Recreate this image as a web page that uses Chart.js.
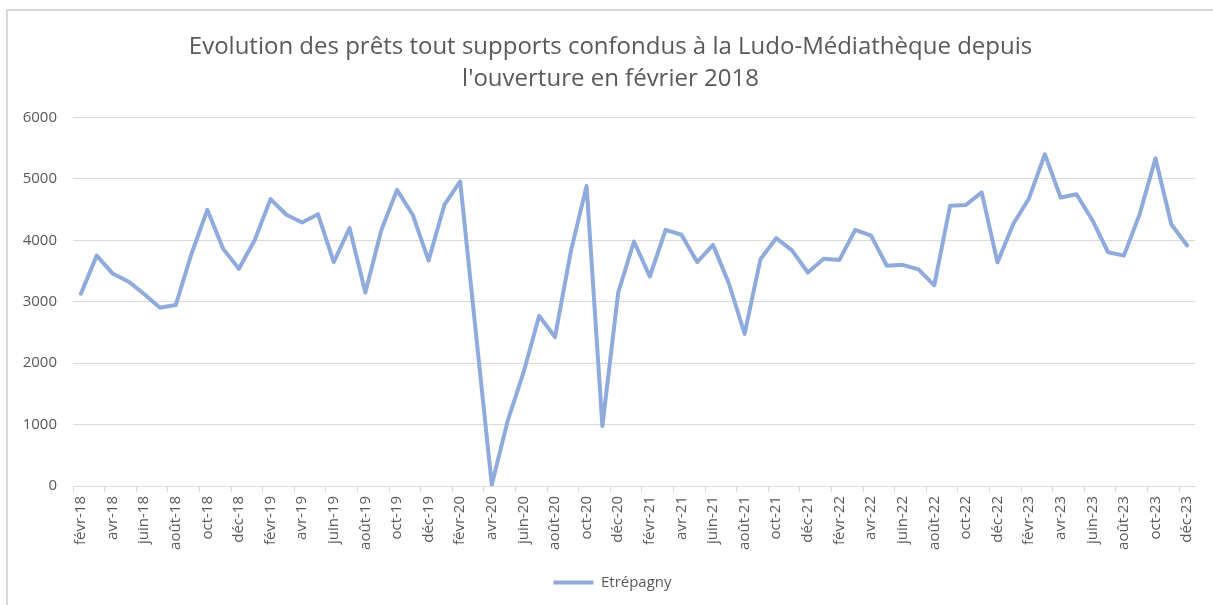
<!DOCTYPE html>
<html><head><meta charset="utf-8">
<script src="https://cdn.jsdelivr.net/npm/chart.js@4.4.1/dist/chart.umd.min.js"></script>
<style>html,body{margin:0;padding:0;background:#fff;}#wrap{position:absolute;left:0;top:0;width:1213px;height:605px;}</style>
</head><body><div id="wrap"><canvas id="c"></canvas></div>
<script>
const titleLines = ["Evolution des prêts tout supports confondus à la Ludo-Médiathèque depuis", "l'ouverture en février 2018"];
const seriesName = "Etrépagny";
const categories = [
  "févr-18","mars-18","avr-18","mai-18","juin-18","juil-18","août-18","sept-18","oct-18","nov-18","déc-18",
  "janv-19","févr-19","mars-19","avr-19","mai-19","juin-19","juil-19","août-19","sept-19","oct-19","nov-19","déc-19",
  "janv-20","févr-20","mars-20","avr-20","mai-20","juin-20","juil-20","août-20","sept-20","oct-20","nov-20","déc-20",
  "janv-21","févr-21","mars-21","avr-21","mai-21","juin-21","juil-21","août-21","sept-21","oct-21","nov-21","déc-21",
  "janv-22","févr-22","mars-22","avr-22","mai-22","juin-22","juil-22","août-22","sept-22","oct-22","nov-22","déc-22",
  "janv-23","févr-23","mars-23","avr-23","mai-23","juin-23","juil-23","août-23","sept-23","oct-23","nov-23","déc-23"
];
const prets2018 = [3130,3750,3460,3330,3125,2900,2945,3780,4495,3860,3535];
const prets2019 = [4005,4670,4415,4290,4425,3645,4200,3150,4155,4820,4415,3670];
const prets2020 = [4575,4960,2480,20,1055,1840,2770,2425,3815,4885,975,3150];
const prets2021 = [3980,3410,4170,4090,3645,3925,3300,2475,3690,4035,3835,3475];
const prets2022 = [3700,3680,4170,4075,3585,3600,3525,3265,4560,4575,4780,3640];
const prets2023 = [4265,4685,5400,4695,4750,4330,3805,3750,4425,5335,4260,3915];
const values = [].concat(prets2018, prets2019, prets2020, prets2021, prets2022, prets2023);
const yTicks = [0,1000,2000,3000,4000,5000,6000];

const lineColor = '#8FAADC';
const textColor = '#595959';
const gridColor = '#d9d9d9';
const fontFam = '"Open Sans", "Liberation Sans", sans-serif';

const framePlugin = {
  id: 'frame',
  afterLayout(chart) {
    if (chart.legend) { chart.legend.left += 15; chart.legend.right += 15; }
    if (chart.titleBlock) { chart.titleBlock.left += 13; chart.titleBlock.right += 13; }
  },
  beforeDraw(chart) {
    const c = chart.ctx;
    c.save();
    c.fillStyle = '#fff';
    c.fillRect(0, 0, chart.width, chart.height);
    c.strokeStyle = gridColor;
    c.lineWidth = 2;
    c.strokeRect(7, 10, 1240, 640);
    c.restore();
  }
};

new Chart(document.getElementById('c'), {
  type: 'line',
  data: {
    labels: categories,
    datasets: [{
      label: seriesName,
      data: values,
      borderColor: lineColor,
      backgroundColor: lineColor,
      borderWidth: 4,
      pointRadius: 0,
      tension: 0,
      borderJoinStyle: 'round',
      borderCapStyle: 'round'
    }]
  },
  options: {
    responsive: true,
    maintainAspectRatio: false,
    animation: false,
    layout: { padding: { left: 0, right: 18, top: 0, bottom: 5 } },
    plugins: {
      title: {
        display: true,
        text: titleLines,
        color: textColor,
        font: { family: fontFam, size: 24, weight: 'normal', lineHeight: 1.3 },
        padding: { top: 32, bottom: 23 }
      },
      legend: {
        display: true,
        position: 'bottom',
        labels: {
          color: textColor,
          font: { family: fontFam, size: 15 },
          boxWidth: 40,
          boxHeight: 4,
          padding: 10,
          generateLabels(chart) {
            const items = Chart.defaults.plugins.legend.labels.generateLabels(chart);
            items.forEach(it => { it.lineWidth = 0; it.fillStyle = lineColor; it.strokeStyle = lineColor; });
            return items;
          }
        }
      },
      tooltip: { enabled: false }
    },
    scales: {
      x: {
        offset: true,
        afterFit(scale) { scale.height = 79; },
        grid: {
          offset: true,
          drawOnChartArea: false,
          drawTicks: true,
          tickLength: 6,
          color: ctx => (ctx.index % 2 === 0 ? gridColor : 'rgba(0,0,0,0)'),
          lineWidth: 1
        },
        border: { display: true, color: gridColor, width: 1 },
        ticks: {
          autoSkip: false,
          maxRotation: 90,
          minRotation: 90,
          padding: 4,
          color: textColor,
          font: { family: fontFam, size: 15 },
          callback: (v, i) => (i % 2 === 0 ? categories[i] : '')
        }
      },
      y: {
        min: 0,
        max: 6000,
        afterFit(scale) { scale.width = 73; },
        afterBuildTicks(scale) { scale.ticks = yTicks.map(v => ({ value: v })); },
        grid: { color: gridColor, lineWidth: 1, drawTicks: false },
        border: { display: false },
        ticks: {
          padding: 16,
          color: textColor,
          font: { family: fontFam, size: 15 },
          callback: v => String(v)
        }
      }
    }
  },
  plugins: [framePlugin]
});
</script>
</body></html>
